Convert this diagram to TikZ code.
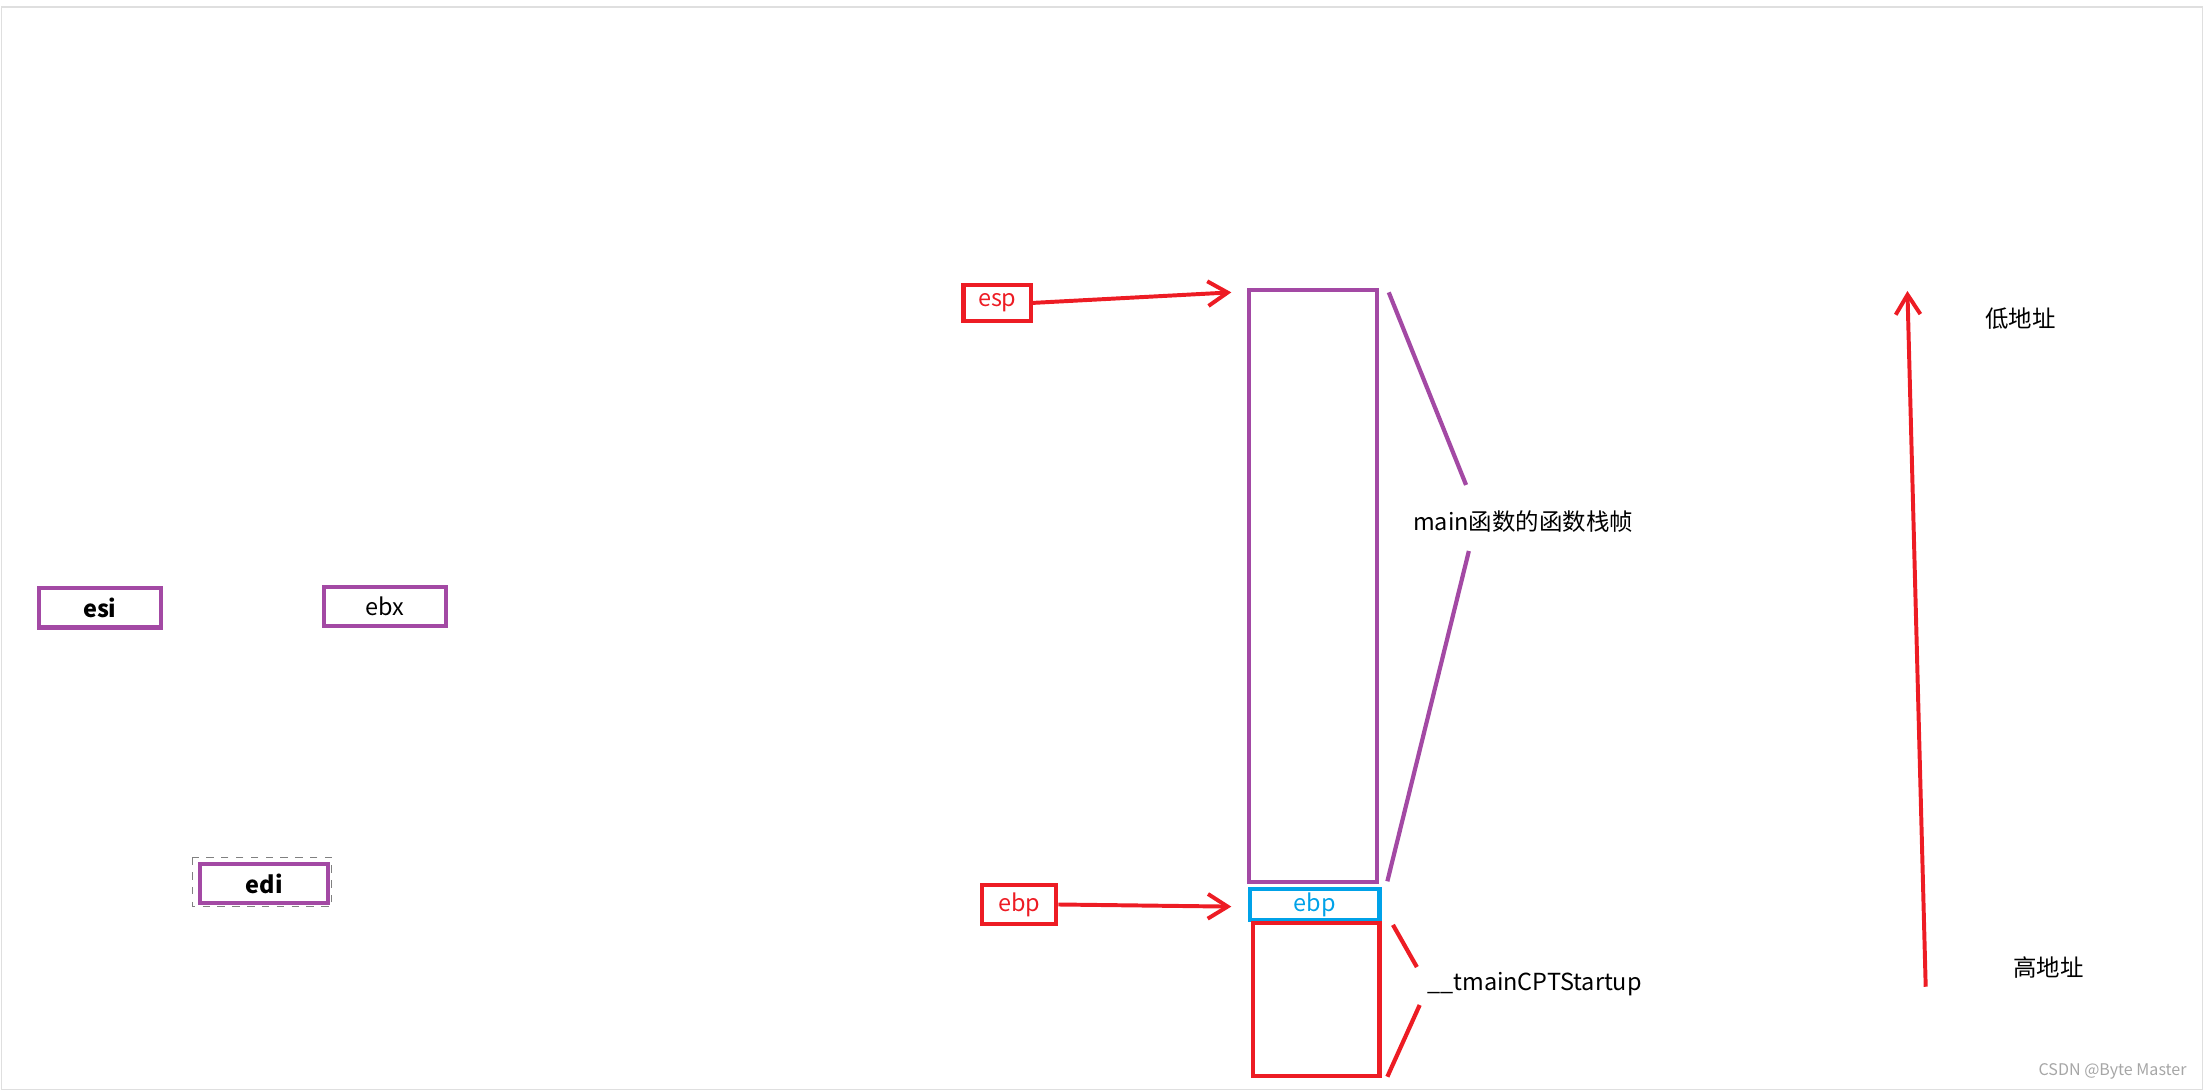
\documentclass[tikz,border=0pt]{standalone}
\usepackage{fontspec}
\setmainfont{Noto Sans CJK SC}
\usetikzlibrary{arrows.meta, positioning}
\definecolor{MyPurple}{HTML}{A349A4}
\definecolor{MyRed}{HTML}{ED1C24}
\definecolor{MyBlue}{HTML}{00A2E8}

\begin{document}
\begin{tikzpicture}[x=0.02cm,y=-0.02cm,
			every node/.style={rectangle,font=\fontsize{9.5}{11}\selectfont,inner sep=0pt},
			reg/.style={draw=MyPurple,line width=1.7pt,minimum width=1.74cm,minimum height=0.56cm},
			ptr/.style={draw=MyRed,line width=1.7pt,text=MyRed,minimum height=0.52cm},
			frame/.style={line width=1.7pt},
			link/.style={line width=1.7pt},
			arr/.style={MyRed,line width=1.6pt,-{Straight Barb[length=8pt,width=10pt]}}
		]
			\useasboundingbox (0,0) rectangle (1568,776);
			\draw[gray!25,line width=0.6pt] (1,5) rectangle (1567,775);

			% registers
			\node (esi) [reg,anchor=north west] at (26,417) {\textbf{esi}};
			\node (ebx) [reg,anchor=north west] at (229,416) {ebx};
			\node (edi) [reg,anchor=north west,minimum width=1.82cm] at (141,613) {\textbf{edi}};
			\draw[gray,dashed,line width=0.5pt] (137,610) rectangle (236,645);

			% stack
			\node (mainFrame) [frame,draw=MyPurple,anchor=north west,minimum width=1.82cm,minimum height=8.42cm] at (887,205) {};
			\node (ebpSlot) [frame,draw=MyBlue,text=MyBlue,anchor=north west,minimum width=1.84cm,minimum height=0.44cm] at (888,631) {ebp};
			\node (startFrame) [frame,draw=MyRed,anchor=north west,minimum width=1.8cm,minimum height=2.18cm] at (890,655) {};

			% pointers
			\node (esp) [ptr,anchor=north west,minimum width=0.96cm] at (684,201) {esp};
			\node (ebp) [ptr,anchor=north west,minimum width=1.06cm,minimum height=0.56cm] at (697,628) {ebp};
			\coordinate (espTip) at (876,208);
			\coordinate (ebpTip) at (876,645);
			\draw[arr] (esp.east) -- (espTip);
			\draw[arr] (ebp.east) -- (ebpTip);

			% labels
			\node (mainLbl) [anchor=west] at (1005,371) {main函数的函数栈帧};
			\node (startLbl) [anchor=west] at (1015,700) {\_\_tmainCPTStartup};
			\draw[link,MyPurple] (988,208) -- (1043,345);
			\draw[link,MyPurple] (1045,392) -- (987,627);
			\draw[link,MyRed] (991,658) -- (1008,688);
			\draw[link,MyRed] (1010,715) -- (987,766);

			% address direction
			\coordinate (high) at (1370,702);
			\coordinate (low) at (1357,207);
			\draw[arr] (high) -- (low);
			\node (lowLbl) [anchor=west] at (1412,227) {低地址};
			\node (highLbl) [anchor=west] at (1432,688) {高地址};

			\node (mark) [anchor=west,text=gray!70,font=\fontsize{6.5}{8}\selectfont] at (1450,762) {CSDN @Byte Master};
		\end{tikzpicture}
\end{document}
